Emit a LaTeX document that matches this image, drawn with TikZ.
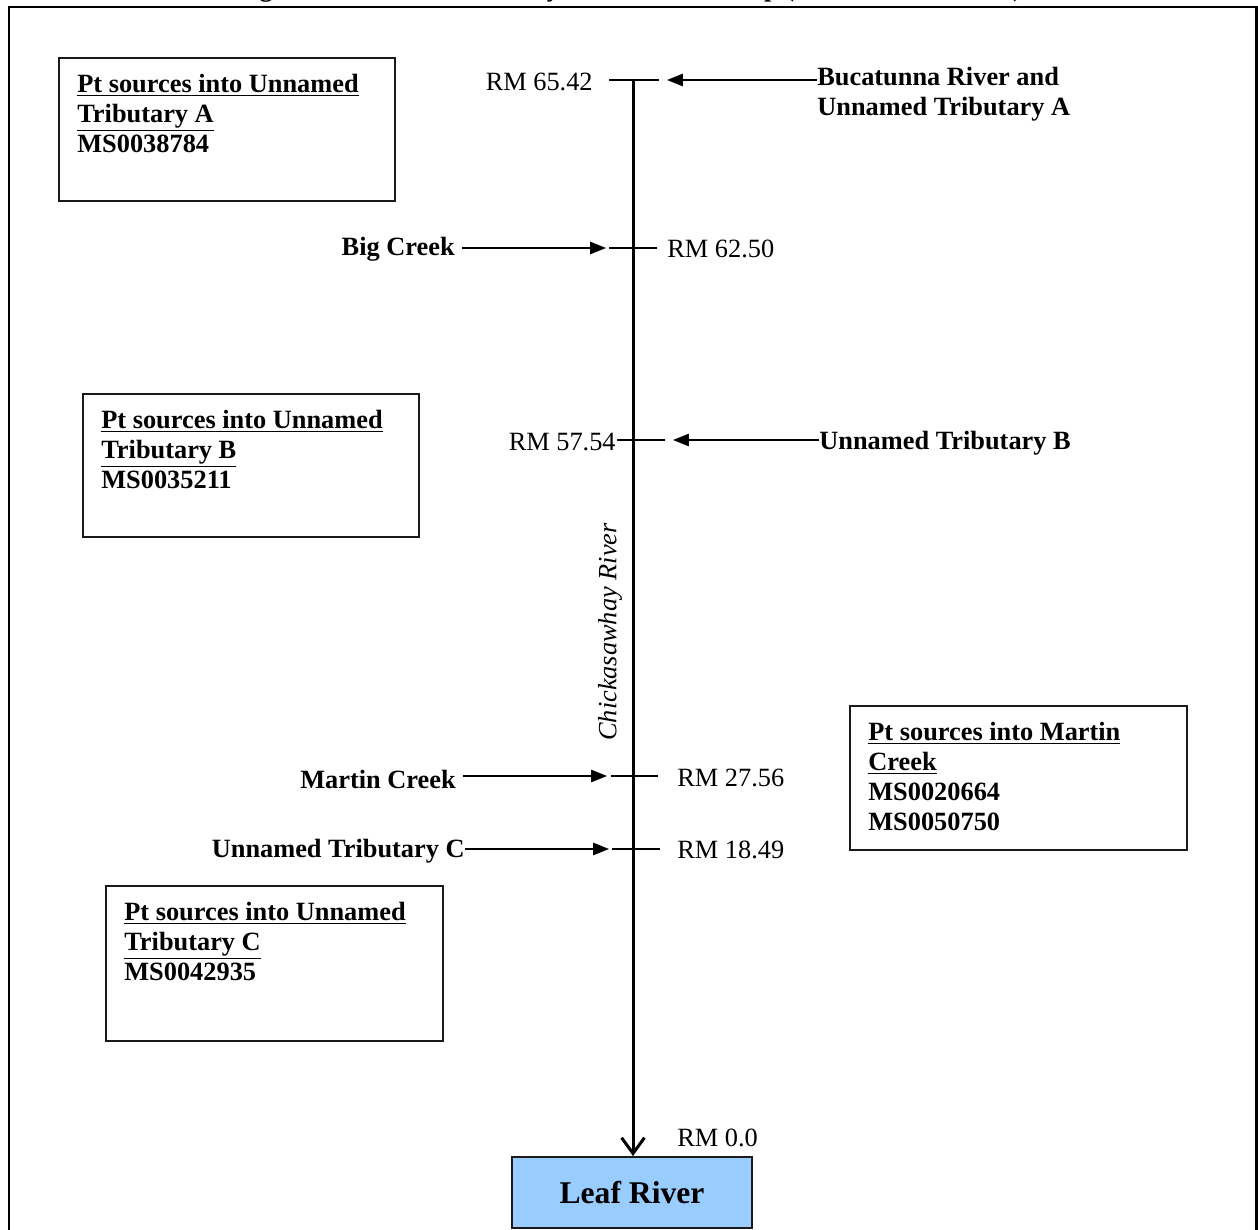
\documentclass[tikz,border=0pt]{standalone}
\usepackage{fontspec}
\setmainfont{Liberation Serif}
\usetikzlibrary{positioning, calc, arrows.meta}
\definecolor{LeafBlue}{HTML}{99CCFF}
\definecolor{Edge}{HTML}{1A1A1A}
\tikzset{
    rmlabel/.style={inner sep=0pt, font=\fontsize{15}{17}\selectfont},
    tribname/.style={inner sep=0pt, align=left, font=\bfseries\fontsize{15}{17}\selectfont},
    rivername/.style={inner sep=0pt, font=\itshape\fontsize{15}{17}\selectfont},
    srcbox/.style={draw=Edge, line width=1.1pt, anchor=north west},
    srctext/.style={inner sep=0pt, anchor=north west, align=left, font=\bfseries\fontsize{15}{17}\selectfont},
    leafbox/.style={draw=Edge, line width=1.1pt, fill=LeafBlue, minimum width=4.8cm, minimum height=1.42cm, font=\bfseries\fontsize{18}{21}\selectfont},
    tickline/.style={line width=0.85pt},
    inflow/.style={-{Triangle[length=9pt, width=7pt]}, line width=0.85pt},
    river/.style={-{Straight Barb[length=9pt, width=13pt]}, line width=1.7pt},
}

\begin{document}
\begin{tikzpicture}[x=0.02cm, y=-0.02cm]
    \useasboundingbox (0,0) rectangle (1258,1230);
    \clip (0,0) rectangle (1258,1230);

    % Titel (vom Seitenrand abgeschnitten) und Rahmen
    \node[tribname, anchor=base] (title) at (629,-3) {Figure 4. The Chickasawhay River Model Setup (Not Drawn to Scale)};
    \draw[line width=1.7pt] (9,7) rectangle (1256,1260);

    % Hauptfluss
    \node[leafbox] (leaf) at (632,1192.5) {Leaf River};
    \coordinate (j1) at (633,80);
    \coordinate (j2) at (633,248);
    \coordinate (j3) at (633,440);
    \coordinate (j4) at (633,776);
    \coordinate (j5) at (633,849);
    \draw[river] (j1) -- (j1 |- leaf.north);
    \node[rivername, rotate=90] (chick) at (610,632) {Chickasawhay River};

    % Querstriche an den Einmuendungen
    \foreach \j/\a/\b in {j1/-24/26, j2/-24/24, j3/-16/32, j4/-22/25, j5/-21/27}
        \draw[tickline] ($(\j)+(\a,0)$) -- ($(\j)+(\b,0)$);

    % Flusskilometer
    \node[rmlabel, anchor=east] (rm1) at (593,82) {RM 65.42};
    \node[rmlabel, anchor=west] (rm2) at (667,249) {RM 62.50};
    \node[rmlabel, anchor=east] (rm3) at (616,442) {RM 57.54};
    \node[rmlabel, anchor=west] (rm4) at (677,778) {RM 27.56};
    \node[rmlabel, anchor=west] (rm5) at (677,850) {RM 18.49};
    \node[rmlabel, anchor=west] (rm0) at (677,1138) {RM 0.0};

    % Zufluesse
    \node[tribname, anchor=west] (buca) at (817,94) {Bucatunna River and\\Unnamed Tributary A};
    \node[tribname, anchor=east] (bigcreek) at (455,249) {Big Creek};
    \node[tribname, anchor=west] (tribB) at (819,443) {Unnamed Tributary B};
    \node[tribname, anchor=east] (martin) at (456,779) {Martin Creek};
    \node[tribname, anchor=east] (tribC) at (465,851) {Unnamed Tributary C};
    \coordinate (tip1) at (667,80);
    \coordinate (tip2) at (606,248);
    \coordinate (tip3) at (673,440);
    \coordinate (tip4) at (607,776);
    \coordinate (tip5) at (609,849);
    \draw[inflow] (buca.west |- j1) -- (tip1);
    \draw[inflow, shorten <=4pt] (bigcreek.east |- j2) -- (tip2);
    \draw[inflow] (tribB.west |- j3) -- (tip3);
    \draw[inflow, shorten <=4pt] (martin.east |- j4) -- (tip4);
    \draw[inflow] (tribC.east |- j5) -- (tip5);

    % Punktquellen
    \node[srcbox, minimum width=6.72cm, minimum height=2.86cm] (srcA) at (58,57) {};
    \node[srctext] (srcAtext) at ($(srcA.north west)+(19,17)$) {\underline{Pt sources into Unnamed}\\\underline{Tributary A}\\MS0038784};
    \node[srcbox, minimum width=6.72cm, minimum height=2.86cm] (srcB) at (82,393) {};
    \node[srctext] (srcBtext) at ($(srcB.north west)+(19,17)$) {\underline{Pt sources into Unnamed}\\\underline{Tributary B}\\MS0035211};
    \node[srcbox, minimum width=6.74cm, minimum height=2.88cm] (srcM) at (849,705) {};
    \node[srctext] (srcMtext) at ($(srcM.north west)+(19,17)$) {\underline{Pt sources into Martin}\\\underline{Creek}\\MS0020664\\MS0050750};
    \node[srcbox, minimum width=6.74cm, minimum height=3.1cm] (srcC) at (105,885) {};
    \node[srctext] (srcCtext) at ($(srcC.north west)+(19,17)$) {\underline{Pt sources into Unnamed}\\\underline{Tributary C}\\MS0042935};
\end{tikzpicture}
\end{document}
